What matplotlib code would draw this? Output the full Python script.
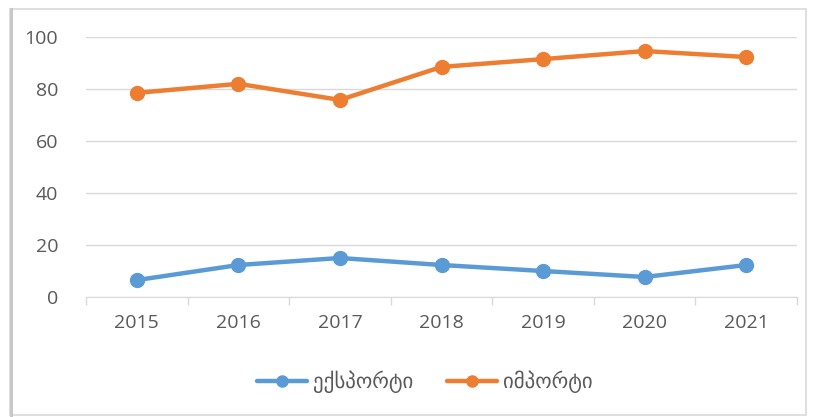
import matplotlib.pyplot as plt
import matplotlib.patches as patches
import numpy as np

years = ['2015', '2016', '2017', '2018', '2019', '2020', '2021']
export_vals = [6.5, 12.3, 15.0, 12.3, 10.0, 7.7, 12.3]
import_vals = [78.5, 82.0, 75.8, 88.5, 91.5, 94.6, 92.3]
labels = ['ექსპორტი', 'იმპორტი']

plt.rcParams['font.family'] = ['Open Sans', 'DejaVu Sans']

fig = plt.figure(figsize=(8.14, 4.17), dpi=100)
fig.patch.set_facecolor('white')

# outer frame of the chart
frame = patches.Rectangle((10/814, 2/417), 796/814, 406/417, transform=fig.transFigure,
                          fill=False, edgecolor='#d9d9d9', linewidth=1.2)
fig.patches.append(frame)
fig.add_artist(plt.Line2D([11/814, 11/814], [2/417, 408/417], transform=fig.transFigure,
                          color='#c8c8c8', linewidth=2.2))

ax = fig.add_axes([86/814, 1 - 297/417, 711/814, 260/417])
x = np.arange(len(years))

ax.plot(x, export_vals, color='#5b9bd5', linewidth=3.2, marker='o', markersize=10,
        label=labels[0], solid_capstyle='round')
ax.plot(x, import_vals, color='#ed7d31', linewidth=3.2, marker='o', markersize=10,
        label=labels[1], solid_capstyle='round')

ax.set_xlim(-0.5, len(years) - 0.5)
ax.set_ylim(0, 100)
ax.set_yticks(range(0, 101, 20))
ax.set_xticks(x)
ax.set_xticklabels(years)
ax.set_xticks(np.arange(-0.5, len(years)), minor=True)
ax.tick_params(axis='x', which='major', length=0, pad=12, labelsize=14, labelcolor='#595959')
ax.tick_params(axis='x', which='minor', length=6, color='#d9d9d9', width=1)
ax.tick_params(axis='y', length=0, pad=20, labelsize=14, labelcolor='#595959')

ax.grid(axis='y', color='#d9d9d9', linewidth=1)
ax.set_axisbelow(True)
for s in ['top', 'right', 'left']:
    ax.spines[s].set_visible(False)
ax.spines['bottom'].set_color('#d9d9d9')
ax.spines['bottom'].set_zorder(0)

leg = fig.legend(loc='center', bbox_to_anchor=(425/814, 1 - 382/417), ncol=2, frameon=False,
                 fontsize=15, handlelength=2.4, columnspacing=1.6, handletextpad=0.3,
                 markerscale=0.8)
for t in leg.get_texts():
    t.set_color('#595959')

fig.savefig('out.png', dpi=100)
